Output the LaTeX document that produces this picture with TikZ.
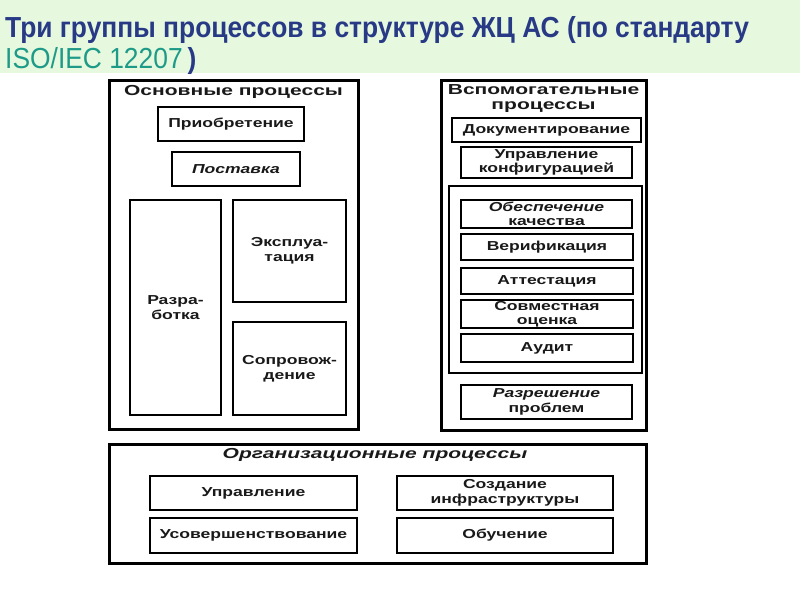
\documentclass[tikz,border=0pt]{standalone}
\usepackage{fontspec}
\setmainfont{Liberation Sans}
\newfontfamily\dfont[FakeStretch=1.35]{Liberation Sans}
\newfontfamily\hfont[FakeStretch=1.45]{Liberation Sans}
\newfontfamily\tfont[FakeStretch=0.91]{Liberation Sans}
\definecolor{bandgreen}{HTML}{E6F9DE}
\definecolor{navy}{HTML}{283A86}
\definecolor{teal}{HTML}{1E9A88}
\tikzset{
  outerbox/.style={draw=black, line width=3pt, inner sep=0pt, outer sep=0pt},
  procbox/.style={draw=black, line width=1.6pt, inner sep=0pt, outer sep=0pt, align=center,
     font=\dfont\bfseries\fontsize{13}{14.5}\selectfont, text=black!90},
  grouphead/.style={inner sep=0pt, align=center, font=\hfont\bfseries\fontsize{14.5}{14.5}\selectfont, text=black!90},
  titletext/.style={inner sep=0pt, anchor=base west, font=\tfont\fontsize{29}{30}\selectfont}
}
\begin{document}
\begin{tikzpicture}[x=1pt,y=-1pt]
\useasboundingbox (0,0) rectangle (800,600);
\fill[white] (0,0) rectangle (800,600);
\fill[bandgreen] (0,0) rectangle (800,73);
\node[titletext, text=navy] (t1) at (5,37) {\bfseries Три группы процессов в структуре ЖЦ АС (по стандарту};
\node[titletext] (t2) at (5,68) {\textcolor{teal}{ISO/IEC 12207}\,\textcolor{navy}{\bfseries )}};

% left group
\node[outerbox, minimum width=249pt, minimum height=349pt] (L) at (233.5,254.5) {};
\node[grouphead] (Lh) at (233.5,91.5) {Основные процессы};
\node[procbox, minimum width=146pt, minimum height=34pt] (acq) at (231,124) {Приобретение};
\node[procbox, minimum width=128pt, minimum height=34pt] (sup) at (236,169) {\itshape Поставка};
\node[procbox, minimum width=91pt, minimum height=215pt] (dev) at (175.5,307.5) {Разра-\\ботка};
\node[procbox, minimum width=113pt, minimum height=102pt] (ops) at (289.5,251) {Эксплуа-\\тация};
\node[procbox, minimum width=113pt, minimum height=93pt] (mnt) at (289.5,368.5) {Сопровож-\\дение};

% right group
\node[outerbox, minimum width=205pt, minimum height=350pt] (R) at (543.5,255) {};
\node[grouphead] (Rh) at (543.5,98.5) {Вспомогательные\\процессы};
\node[procbox, minimum width=189pt, minimum height=24pt] (doc) at (546.5,130) {Документирование};
\node[procbox, minimum width=171pt, minimum height=31pt] (cfg) at (546.5,162.5) {Управление\\конфигурацией};
\node[procbox, minimum width=193pt, minimum height=187pt] (G) at (545.5,279.5) {};
\node[procbox, minimum width=171pt, minimum height=28pt] (qa) at (546.5,214) {{\itshape Обеспечение}\\качества};
\node[procbox, minimum width=172pt, minimum height=26pt] (ver) at (547,247) {Верификация};
\node[procbox, minimum width=172pt, minimum height=26pt] (val) at (547,281) {Аттестация};
\node[procbox, minimum width=172pt, minimum height=28pt] (rev) at (547,314) {Совместная\\оценка};
\node[procbox, minimum width=172pt, minimum height=28pt] (aud) at (547,348) {Аудит};
\node[procbox, minimum width=171pt, minimum height=34pt] (prb) at (546.5,402) {{\itshape Разрешение}\\проблем};

% bottom group
\node[outerbox, minimum width=537pt, minimum height=119pt] (B) at (377.5,503.5) {};
\node[grouphead, font=\hfont\bfseries\itshape\fontsize{14.5}{14.5}\selectfont] (Bh) at (375,455) {Организационные процессы};
\node[procbox, minimum width=207pt, minimum height=34pt] (man) at (253.5,493) {Управление};
\node[procbox, minimum width=216pt, minimum height=34pt] (inf) at (505,493) {Создание\\инфраструктуры};
\node[procbox, minimum width=207pt, minimum height=35pt] (imp) at (253.5,535.5) {Усовершенствование};
\node[procbox, minimum width=216pt, minimum height=35pt] (trn) at (505,535.5) {Обучение};
\end{tikzpicture}
\end{document}
